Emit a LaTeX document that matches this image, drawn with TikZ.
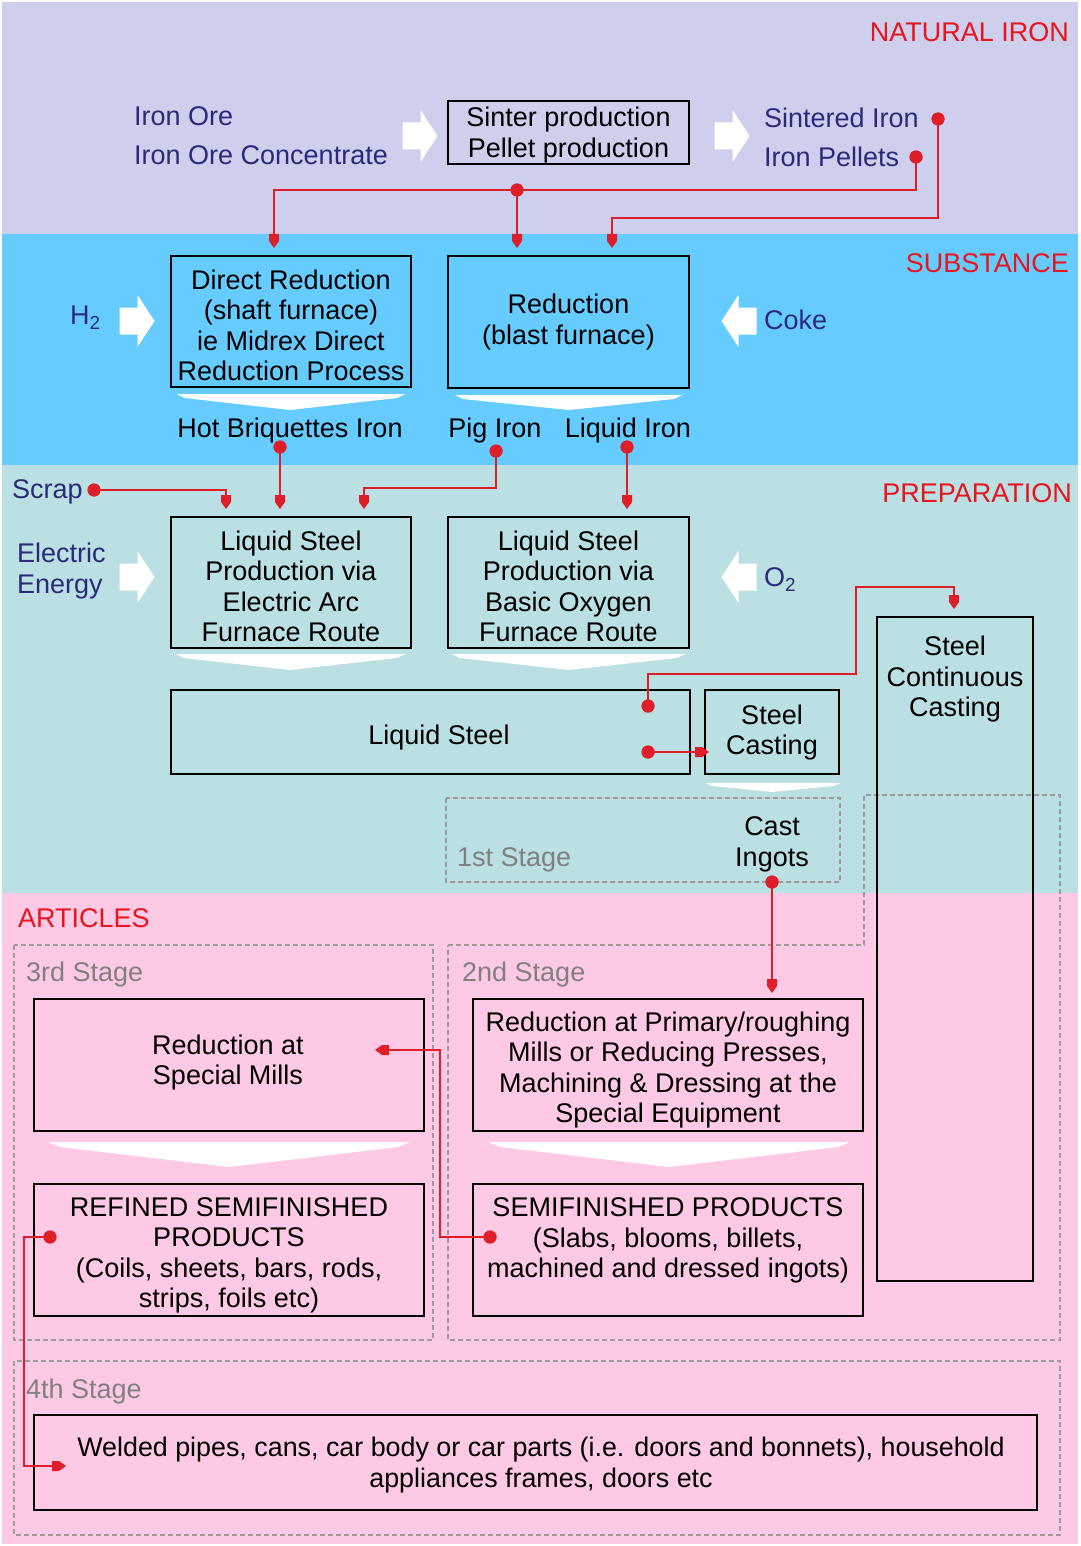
\documentclass[tikz,border=0pt]{standalone}
\usepackage{fontspec}
\setmainfont{Liberation Sans}
\usetikzlibrary{arrows.meta}
\pgfdeclarearrow{
  name = House,
  parameters = {\the\pgfarrowlength,\the\pgfarrowwidth},
  setup code = {
    \pgfarrowssettipend{0pt}
    \pgfarrowssetlineend{-0.5\pgfarrowlength}
    \pgfarrowssetbackend{-\pgfarrowlength}
    \pgfarrowsupperhullpoint{0pt}{0pt}
    \pgfarrowsupperhullpoint{-0.5\pgfarrowlength}{0.5\pgfarrowwidth}
    \pgfarrowsupperhullpoint{-\pgfarrowlength}{0.5\pgfarrowwidth}
    \pgfarrowssavethe\pgfarrowlength
    \pgfarrowssavethe\pgfarrowwidth
  },
  drawing code = {
    \pgfpathmoveto{\pgfpoint{0pt}{0pt}}
    \pgfpathlineto{\pgfpoint{-0.5\pgfarrowlength}{0.5\pgfarrowwidth}}
    \pgfpathlineto{\pgfpoint{-\pgfarrowlength}{0.5\pgfarrowwidth}}
    \pgfpathlineto{\pgfpoint{-\pgfarrowlength}{-0.5\pgfarrowwidth}}
    \pgfpathlineto{\pgfpoint{-0.5\pgfarrowlength}{-0.5\pgfarrowwidth}}
    \pgfpathclose
    \pgfusepathqfill
  },
  defaults = {length=14pt, width=10pt}
}
\definecolor{bgA}{RGB}{205,207,237}
\definecolor{bgB}{RGB}{102,204,255}
\definecolor{bgC}{RGB}{186,224,227}
\definecolor{bgD}{RGB}{253,201,228}
\definecolor{inkblue}{RGB}{43,42,122}
\definecolor{lblred}{RGB}{232,20,30}
\definecolor{conred}{RGB}{222,30,40}
\definecolor{stagegrey}{RGB}{128,128,128}
\definecolor{dashgrey}{RGB}{155,155,155}
\newcommand\myfs{\fontsize{27}{30.5}\selectfont}
\newcommand\mywfs{\fontsize{26.85}{30.5}\selectfont}
\begin{document}
\begin{tikzpicture}[x=1pt,y=-1pt,
  box/.style={draw=black, line width=2.5pt, inner sep=0pt},
  txt/.style={inner sep=0pt, align=center, font=\myfs, text=black},
  inp/.style={txt, text=inkblue},
  ttl/.style={txt, text=lblred},
  stg/.style={txt, text=stagegrey},
  stagebox/.style={draw=dashgrey, line width=2pt, dash pattern=on 5pt off 3pt},
  conn/.style={draw=conred, line width=1.8pt, -{House[length=14pt,width=10pt]}},
  dot/.style={circle, fill=conred, inner sep=0pt, minimum size=13pt},
  chev/.style={fill=white},
  rarrow/.pic={\fill[white] (-17.5,-13.5) -- (0.5,-13.5) -- (0.5,-26) -- (17.5,0) -- (0.5,26) -- (0.5,13.5) -- (-17.5,13.5) -- cycle;}
]
\useasboundingbox (0,0) rectangle (1080,1546);
% backgrounds
\fill[white] (0,0) rectangle (1080,1546);
\fill[bgA] (2,2) rectangle (1078,234);
\fill[bgB] (2,234) rectangle (1078,465);
\fill[bgC] (2,465) rectangle (1078,893);
\fill[bgD] (2,893) rectangle (1078,1544);

% section titles
\node[ttl, anchor=base east] (tNat) at (1069,41.5) {NATURAL IRON};
\node[ttl, anchor=base east] (tSub) at (1069,272.5) {SUBSTANCE};
\node[ttl, anchor=base east] (tPrep) at (1072,502.5) {PREPARATION};
\node[ttl, anchor=base west] (tArt) at (18,927.5) {ARTICLES};

% dashed stage boxes
\draw[stagebox] (446,798) rectangle (840,882);
\draw[stagebox] (14,945) rectangle (433,1340);
\draw[stagebox] (448,945) -- (864,945) -- (864,795) -- (1060,795) -- (1060,1340) -- (448,1340) -- cycle;
\draw[stagebox] (14,1361) rectangle (1060,1535);
\node[stg, anchor=base west] (s1) at (457,866.5) {1st Stage};
\node[stg, anchor=base west] (s3) at (26,981.5) {3rd Stage};
\node[stg, anchor=base west] (s2) at (462,981.5) {2nd Stage};
\node[stg, anchor=base west] (s4) at (26,1398.5) {4th Stage};

% white block arrows
\pic at (420,136) {rarrow};
\pic at (732,136) {rarrow};
\pic at (137,321) {rarrow};
\pic[rotate=180] at (739,321) {rarrow};
\pic at (137,577) {rarrow};
\pic[rotate=180] at (739,577) {rarrow};

% white chevrons
\fill[chev] (177,394) -- (405,394) -- (397,398) -- (290,410) -- (185,398) -- cycle;
\fill[chev] (455,395) -- (682,395) -- (674,399) -- (569,410) -- (463,399) -- cycle;
\fill[chev] (176,654) -- (405,654) -- (397,658) -- (290,670) -- (184,658) -- cycle;
\fill[chev] (452,654) -- (685,654) -- (677,658) -- (569,670) -- (460,658) -- cycle;
\fill[chev] (706,783) -- (840,783) -- (834,786) -- (772,792) -- (712,786) -- cycle;
\fill[chev] (48,1142) -- (410,1142) -- (398,1147) -- (229,1167) -- (60,1147) -- cycle;
\fill[chev] (488,1142) -- (850,1142) -- (838,1147) -- (669,1167) -- (500,1147) -- cycle;

% input labels
\node[inp, anchor=base west] (ore) at (134,125.5) {Iron Ore};
\node[inp, anchor=base west] (orec) at (134,164.5) {Iron Ore Concentrate};
\node[inp, anchor=base west] (sint) at (764,127.5) {Sintered Iron};
\node[inp, anchor=base west] (pell) at (764,166.5) {Iron Pellets};
\node[inp, anchor=base west] (h2) at (70,324.5) {H\textsubscript{2}};
\node[inp, anchor=base west] (coke) at (764,329.5) {Coke};
\node[inp, anchor=base west] (scrap) at (12,498.5) {Scrap};
\node[inp, anchor=west, align=left] (elec) at (17,571) {Electric\\Energy};
\node[inp, anchor=base west] (o2) at (764,586.5) {O\textsubscript{2}};
\node[txt, anchor=base] (hbi) at (290,437.5) {Hot Briquettes Iron};
\node[txt, anchor=base] (pig) at (495,437.5) {Pig Iron};
\node[txt, anchor=base] (liqi) at (628,437.5) {Liquid Iron};
\node[txt] (ingots) at (772,844.5) {Cast\\Ingots};

% process boxes
\node[box, minimum width=241pt, minimum height=63pt] (sinter) at (568.5,132.5) {};
\node[txt] (sintert) at (568.5,135) {Sinter production\\Pellet production};
\node[box, minimum width=240pt, minimum height=131pt] (dr) at (291,321.5) {};
\node[txt] (drt) at (291,325.5) {Direct Reduction\\(shaft furnace)\\ie Midrex Direct\\Reduction Process};
\node[box, minimum width=241pt, minimum height=132pt] (bf) at (568.5,322) {};
\node[txt] (bft) at (568.5,322) {Reduction\\(blast furnace)};
\node[box, minimum width=240pt, minimum height=131pt] (eaf) at (291,582.5) {};
\node[txt] (eaft) at (291,586.5) {Liquid Steel\\Production via\\Electric Arc\\Furnace Route};
\node[box, minimum width=241pt, minimum height=131pt] (bof) at (568.5,582.5) {};
\node[txt] (boft) at (568.5,586.5) {Liquid Steel\\Production via\\Basic Oxygen\\Furnace Route};
\node[box, minimum width=519pt, minimum height=84pt] (ls) at (430.5,732) {};
\node[txt] (lst) at (439,738) {Liquid Steel};
\node[box, minimum width=134pt, minimum height=84pt] (sc) at (772,732) {};
\node[txt] (sct) at (772,732.5) {Steel\\Casting};
\node[box, minimum width=156pt, minimum height=664pt] (scc) at (955,949) {};
\node[txt] (scct) at (955,679.5) {Steel\\Continuous\\Casting};
\node[box, minimum width=390pt, minimum height=132pt] (rsm) at (229,1065) {};
\node[txt] (rsmt) at (228,1062.5) {Reduction at\\Special Mills};
\node[box, minimum width=390pt, minimum height=132pt] (rpm) at (668,1065) {};
\node[txt] (rpmt) at (668,1070) {Reduction at Primary/roughing\\Mills or Reducing Presses,\\Machining \& Dressing at the\\Special Equipment};
\node[box, minimum width=390pt, minimum height=132pt] (rsp) at (229,1250) {};
\node[txt] (rspt) at (229,1255.5) {REFINED SEMIFINISHED\\PRODUCTS\\(Coils, sheets, bars, rods,\\strips, foils etc)};
\node[box, minimum width=390pt, minimum height=132pt] (sp) at (668,1250) {};
\node[txt] (spt) at (668,1240.5) {SEMIFINISHED PRODUCTS\\(Slabs, blooms, billets,\\machined and dressed ingots)};
\node[box, minimum width=1003pt, minimum height=95pt] (wp) at (535.5,1462.5) {};
\node[txt, font=\mywfs] (wpt) at (541,1465) {Welded pipes, cans, car body or car parts (i.e. doors and bonnets), household\\appliances frames, doors etc};

% connector dots
\node[dot] (dpel) at (916,157) {};
\node[dot] (dsin) at (938,119) {};
\node[dot] (dj) at (517,190) {};
\node[dot] (dhbi) at (280,447) {};
\node[dot] (dpig) at (496,451) {};
\node[dot] (dliq) at (627,447) {};
\node[dot] (dscrap) at (94,490) {};
\node[dot] (dls1) at (648,706) {};
\node[dot] (dls2) at (648,752) {};
\node[dot] (dcast) at (772,882) {};
\node[dot] (dsp) at (490,1237) {};
\node[dot] (drsp) at (50,1237) {};

% connector end points
\coordinate (e1) at (274,248);
\coordinate (e2) at (517,248);
\coordinate (e3) at (612,248);
\coordinate (e4) at (280,509);
\coordinate (e5) at (364,509);
\coordinate (e6) at (627,509);
\coordinate (e7) at (226,509);
\coordinate (e8) at (954,609);
\coordinate (e9) at (709,752);
\coordinate (e10) at (772,993);
\coordinate (e11) at (375,1050);
\coordinate (e12) at (66,1466);

% connectors
\draw[conn] (dpel.center) -- ++(0,33) -| (e1);
\draw[conn] (dj.center) -- (e2);
\draw[conn] (dsin.center) -- ++(0,99) -| (e3);
\draw[conn] (dhbi.center) -- (e4);
\draw[conn] (dpig.center) -- ++(0,37) -| (e5);
\draw[conn] (dliq.center) -- (e6);
\draw[conn] (dscrap.center) -| (e7);
\draw[conn] (dls1.center) -- ++(0,-32) -- ++(208,0) -- ++(0,-87) -| (e8);
\draw[conn] (dls2.center) -- (e9);
\draw[conn] (dcast.center) -- (e10);
\draw[conn] (dsp.center) -- ++(-50,0) |- (e11);
\draw[conn] (drsp.center) -- ++(-26,0) |- (e12);
% dots on top of the lines
\foreach \d in {dpel,dsin,dj,dhbi,dpig,dliq,dscrap,dls1,dls2,dcast,dsp,drsp}
  \fill[conred] (\d.center) circle (6.5pt);
\end{tikzpicture}
\end{document}
